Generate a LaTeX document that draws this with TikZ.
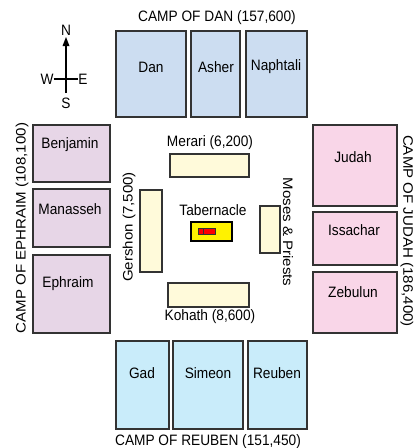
\documentclass[tikz,border=0pt]{standalone}
\usepackage{fontspec}
\setmainfont{Liberation Sans}
\usepackage{tikz}

\definecolor{danblue}{HTML}{CCDDF1}
\definecolor{ephpurple}{HTML}{E7D6E7}
\definecolor{judpink}{HTML}{F9D6E8}
\definecolor{reucyan}{HTML}{C9ECFA}
\definecolor{levcream}{HTML}{FFFADA}
\definecolor{edge}{HTML}{333333}

\begin{document}
\begin{tikzpicture}[x=1pt,y=1pt]
\tikzstyle{every node}+=[inner sep=0pt,yscale=1.1,font=\fontsize{13.7}{16}\selectfont]
\tikzstyle{tribe}=[draw=edge,line width=1.8pt]
\tikzstyle{levite}=[draw=edge,line width=1.6pt,fill=levcream]
\useasboundingbox (0,0) rectangle (415,-448);
% compass
\draw (66,-30) node (n) {N};
\draw (66,-103) node (s) {S};
\draw (47,-79) node (w) {W};
\draw (83,-79) node (e) {E};
\draw [line width=1.2pt] (66,-93) -- (66,-44);
\fill [black] (66,-37) -- (62.5,-46) -- (69.5,-46);
\draw [line width=1.2pt] (w.east) -- (e.west);
% camp of Dan
\draw (217,-18) node (campdan) {CAMP OF DAN (157,600)};
\draw [tribe,fill=danblue] (116,-31) rectangle (186,-117);
\draw [tribe,fill=danblue] (191,-31) rectangle (240,-117);
\draw [tribe,fill=danblue] (246,-31) rectangle (307,-117);
\draw (151,-67) node (dan) {Dan};
\draw (216,-67) node (asher) {Asher};
\draw (276,-67) node (naphtali) {Naphtali};
% camp of Ephraim
\draw (22,-228) node [rotate=90] (campephraim) {CAMP OF EPHRAIM (108,100)};
\draw [tribe,fill=ephpurple] (33,-125) rectangle (110,-182);
\draw [tribe,fill=ephpurple] (33,-189) rectangle (110,-247);
\draw [tribe,fill=ephpurple] (33,-255) rectangle (110,-333);
\draw (70,-145) node (benjamin) {Benjamin};
\draw (70,-209) node (manasseh) {Manasseh};
\draw (68,-284) node (ephraim) {Ephraim};
% camp of Judah
\draw (407,-231) node [rotate=-90] (campjudah) {CAMP OF JUDAH (186,400)};
\draw [tribe,fill=judpink] (313,-125) rectangle (397,-206);
\draw [tribe,fill=judpink] (313,-212) rectangle (397,-265);
\draw [tribe,fill=judpink] (313,-272) rectangle (397,-333);
\draw (353,-157) node (judah) {Judah};
\draw (354,-230) node (issachar) {Issachar};
\draw (353,-292) node (zebulun) {Zebulun};
% camp of Reuben
\draw (208,-442) node (campreuben) {CAMP OF REUBEN (151,450)};
\draw [tribe,fill=reucyan] (116,-341) rectangle (169,-429);
\draw [tribe,fill=reucyan] (173,-341) rectangle (243,-429);
\draw [tribe,fill=reucyan] (248,-341) rectangle (307,-429);
\draw (142,-373) node (gad) {Gad};
\draw (208,-373) node (simeon) {Simeon};
\draw (277,-373) node (reuben) {Reuben};
% levites
\draw [levite] (170,-154) rectangle (249,-177);
\draw (210,-143) node (merari) {Merari (6,200)};
\draw [levite] (140,-190) rectangle (162,-272);
\draw (129,-227) node [rotate=90] (gershon) {Gershon (7,500)};
\draw [levite] (260,-206) rectangle (280,-253);
\draw (288,-232) node [rotate=-90] (moses) {Moses \& Priests};
\draw [levite] (168,-283) rectangle (249,-307);
\draw (210,-317) node (kohath) {Kohath (8,600)};
% tabernacle
\draw (213,-210) node (tabernacle) {Tabernacle};
\draw [line width=1.8pt,fill=yellow] (191,-222) rectangle (232,-241);
\draw [draw=edge,line width=0.9pt,fill=red] (198,-228) rectangle (215,-234);
\draw [edge,line width=0.9pt] (203,-228) -- (203,-234);
\end{tikzpicture}
\end{document}
